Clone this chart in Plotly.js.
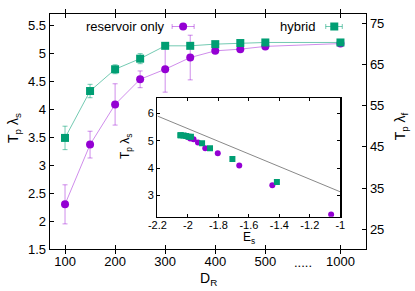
<!DOCTYPE html>
<html>
<head>
<meta charset="utf-8">
<script src="https://cdn.plot.ly/plotly-3.0.1.min.js"></script>
<style>html,body{margin:0;padding:0;background:#fff}#c{width:415px;height:291px}</style>
</head>
<body>
<div id="c"></div>
<script>
// ---- data ----
const dR = [100, 150, 200, 250, 300, 350, 400, 450, 500, 1000];
const resY = [2.30, 3.37, 4.09, 4.54, 4.72, 4.93, 5.05, 5.08, 5.13, 5.18];
const resErr = [0.35, 0.24, 0.37, 0.15, 0.41, 0.40, 0.04, 0.03, 0.03, 0.02];
const hybY = [3.49, 4.33, 4.72, 4.91, 5.14, 5.14, 5.17, 5.19, 5.20, 5.20];
const hybErr = [0.21, 0.12, 0.08, 0.09, 0.02, 0.02, 0.02, 0.02, 0.01, 0.01];
const resEs = [-1.060, -1.446, -1.663, -1.804, -1.886, -1.934, -1.963, -1.985, -2.000, -2.015];
const hybEs = [-1.416, -1.708, -1.855, -1.907, -1.980, -1.996, -2.011, -2.029, -2.046, -2.050];
const lineEs = [-2.2, -1.0];
const lineY = [5.90, 3.13];
const xTickVals = [100, 200, 300, 400, 500, 1000];
const yTickVals = [1.5, 2, 2.5, 3, 3.5, 4, 4.5, 5, 5.5];
const y2TickVals = [25, 35, 45, 55, 65, 75];
const insetXTicks = [-2.2, -2, -1.8, -1.6, -1.4, -1.2, -1];
const insetYTicks = [3, 4, 5, 6];

// broken axis: values above 500 are drawn at position 650
const brk = d => (d <= 500 ? d : 650);

const PURPLE = '#9400d3', PURPLE_L = 'rgba(148,0,211,0.45)';
const GREEN = '#009e73', GREEN_L = 'rgba(0,158,115,0.55)';
const FONT = 'Liberation Sans, Arial, Helvetica, sans-serif';

const traces = [
  {x: dR.map(brk), y: resY, mode: 'lines+markers', xaxis: 'x', yaxis: 'y',
   line: {color: PURPLE_L, width: 1},
   marker: {color: PURPLE, size: 8, symbol: 'circle'},
   error_y: {type: 'data', array: resErr, visible: true, color: PURPLE_L, thickness: 1, width: 2.5}},
  {x: dR.map(brk), y: hybY, mode: 'lines+markers', xaxis: 'x', yaxis: 'y',
   line: {color: GREEN_L, width: 1},
   marker: {color: GREEN, size: 8, symbol: 'square'},
   error_y: {type: 'data', array: hybErr, visible: true, color: GREEN_L, thickness: 1, width: 2.5}},
  // dummy trace to activate right axis
  {x: [null], y: [null], xaxis: 'x', yaxis: 'y2', mode: 'markers', hoverinfo: 'skip'},
  // inset
  {x: lineEs, y: lineY, mode: 'lines', xaxis: 'x2', yaxis: 'y3', line: {color: '#888888', width: 1}},
  {x: resEs, y: resY, mode: 'markers', xaxis: 'x2', yaxis: 'y3', marker: {color: PURPLE, size: 6, symbol: 'circle'}},
  {x: hybEs, y: hybY, mode: 'markers', xaxis: 'x2', yaxis: 'y3', marker: {color: GREEN, size: 6, symbol: 'square'}}
];

const axBase = {showline: true, linecolor: '#000', linewidth: 1.3, ticks: 'inside', ticklen: 4,
  tickcolor: '#000', tickwidth: 1, showgrid: false, zeroline: false,
  tickfont: {family: FONT, size: 13, color: '#000'}};

const layout = {
  width: 415, height: 291,
  margin: {l: 50, r: 49.3, t: 14, b: 42},
  paper_bgcolor: '#fff', plot_bgcolor: '#fff',
  showlegend: false,
  font: {family: FONT, color: '#000'},
  xaxis: Object.assign({}, axBase, {range: [70, 701], tickvals: xTickVals.map(brk),
    ticktext: xTickVals.map(String), mirror: 'allticks', domain: [0, 1], anchor: 'y'}),
  yaxis: Object.assign({}, axBase, {range: [1.5, 5.71], tickvals: yTickVals,
    ticktext: yTickVals.map(String), domain: [0, 1], anchor: 'x'}),
  yaxis2: Object.assign({}, axBase, {range: [20.2, 77.3], tickvals: y2TickVals,
    overlaying: 'y', side: 'right', anchor: 'x'}),
  xaxis2: Object.assign({}, axBase, {range: [-2.2, -1], tickvals: insetXTicks,
    ticktext: insetXTicks.map(String), mirror: 'allticks', ticklabelstandoff: -2,
    domain: [0.340, 0.9186], anchor: 'y3', tickfont: {family: FONT, size: 11, color: '#000'}, ticklen: 3}),
  yaxis3: Object.assign({}, axBase, {range: [2.22, 6.56], tickvals: insetYTicks, mirror: 'allticks',
    domain: [0.1374, 0.6426], anchor: 'x2', tickfont: {family: FONT, size: 11, color: '#000'}, ticklen: 3}),
  shapes: [
    // legend samples
    {type: 'line', xref: 'paper', yref: 'paper', x0: (172-50)/315.7, x1: (194-50)/315.7, y0: (249-26.5)/235, y1: (249-26.5)/235, line: {color: PURPLE_L, width: 1}},
    {type: 'line', xref: 'paper', yref: 'paper', x0: (172-50)/315.7, x1: (172-50)/315.7, y0: (249-24)/235, y1: (249-29)/235, line: {color: PURPLE_L, width: 1}},
    {type: 'line', xref: 'paper', yref: 'paper', x0: (194-50)/315.7, x1: (194-50)/315.7, y0: (249-24)/235, y1: (249-29)/235, line: {color: PURPLE_L, width: 1}},
    {type: 'circle', xref: 'paper', yref: 'paper', x0: (179-50)/315.7, x1: (187-50)/315.7, y0: (249-30.5)/235, y1: (249-22.5)/235, fillcolor: PURPLE, line: {width: 0}},
    {type: 'line', xref: 'paper', yref: 'paper', x0: (325.5-50)/315.7, x1: (342-50)/315.7, y0: (249-26.5)/235, y1: (249-26.5)/235, line: {color: GREEN_L, width: 1}},
    {type: 'line', xref: 'paper', yref: 'paper', x0: (325.5-50)/315.7, x1: (325.5-50)/315.7, y0: (249-24)/235, y1: (249-29)/235, line: {color: GREEN_L, width: 1}},
    {type: 'line', xref: 'paper', yref: 'paper', x0: (342-50)/315.7, x1: (342-50)/315.7, y0: (249-24)/235, y1: (249-29)/235, line: {color: GREEN_L, width: 1}},
    {type: 'rect', xref: 'paper', yref: 'paper', x0: (330-50)/315.7, x1: (338-50)/315.7, y0: (249-30.5)/235, y1: (249-22.5)/235, fillcolor: GREEN, line: {width: 0}}
  ],
  annotations: [
    {text: 'reservoir only', xref: 'paper', yref: 'paper', x: (167-50)/315.7, y: (249-26.5)/235, xanchor: 'right', yanchor: 'middle', showarrow: false, font: {size: 13}},
    {text: 'hybrid', xref: 'paper', yref: 'paper', x: (317-50)/315.7, y: (249-26.5)/235, xanchor: 'right', yanchor: 'middle', showarrow: false, font: {size: 13}},
    {text: '.....', xref: 'x', yref: 'paper', x: 575, y: (249-262)/235, xanchor: 'center', yanchor: 'middle', showarrow: false, font: {size: 13}},
    {text: 'T<sub>p</sub> λ<sub>s</sub>', xref: 'paper', yref: 'paper', x: (14-50)/315.7, y: (249-128)/235, xanchor: 'center', yanchor: 'middle', textangle: -90, showarrow: false, font: {size: 14}},
    {text: 'T<sub>p</sub> λ<sub>f</sub>', xref: 'paper', yref: 'paper', x: (401-50)/315.7, y: (249-126)/235, xanchor: 'center', yanchor: 'middle', textangle: -90, showarrow: false, font: {size: 14}},
    {text: 'D<sub>R</sub>', xref: 'paper', yref: 'paper', x: (208-50)/315.7, y: (249-279)/235, xanchor: 'center', yanchor: 'middle', showarrow: false, font: {size: 14}},
    {text: 'E<sub>s</sub>', xref: 'paper', yref: 'paper', x: (249-50)/315.7, y: (249-238)/235, xanchor: 'center', yanchor: 'middle', showarrow: false, font: {size: 12}},
    {text: 'T<sub>p</sub> λ<sub>s</sub>', xref: 'paper', yref: 'paper', x: (126-50)/315.7, y: (249-146)/235, xanchor: 'center', yanchor: 'middle', textangle: -90, showarrow: false, font: {size: 12}}
  ]
};

Plotly.newPlot('c', traces, layout, {displayModeBar: false, staticPlot: true});
</script>
</body>
</html>
